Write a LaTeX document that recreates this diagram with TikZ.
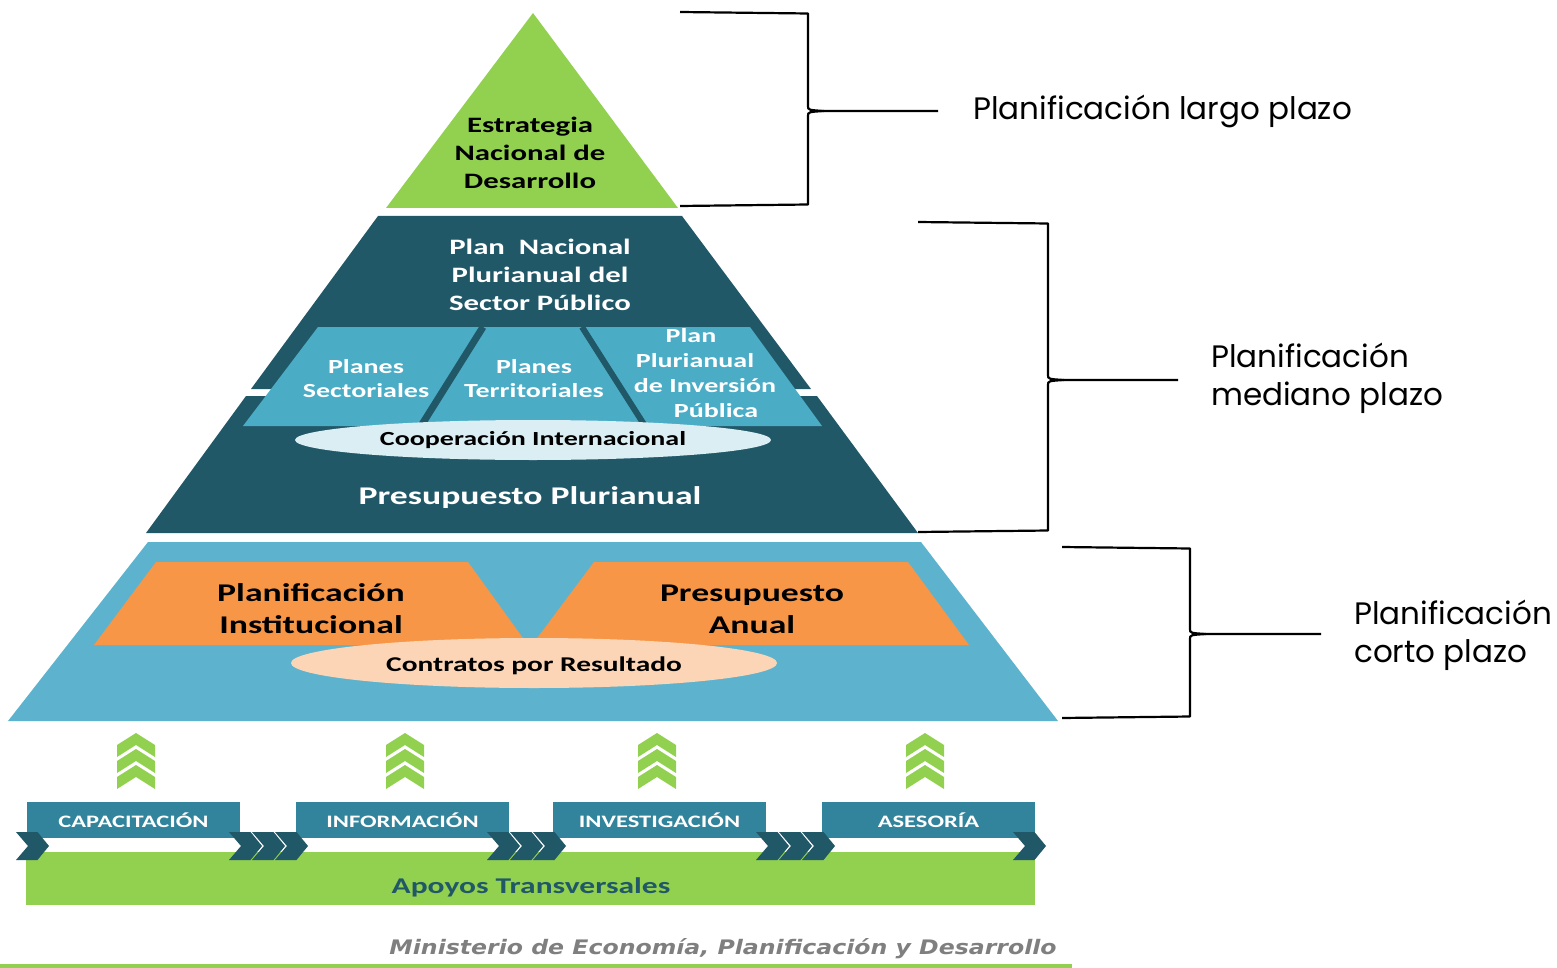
\documentclass[tikz,border=0pt]{standalone}
\usepackage{fontspec}
\usetikzlibrary{shapes.geometric}
\newfontfamily\calib[FakeStretch=1.4]{Carlito}
\newfontfamily\gothic{Poppins}
\newfontfamily\verdw[FakeStretch=1.18]{DejaVu Sans}
\definecolor{lgreen}{HTML}{92D050}
\definecolor{dteal}{HTML}{215868}
\definecolor{mblue}{HTML}{4BACC6}
\definecolor{bblue}{HTML}{5DB3CE}
\definecolor{orng}{HTML}{F79646}
\definecolor{peach}{HTML}{FBD5B5}
\definecolor{ice}{HTML}{DAEEF3}
\definecolor{tbox}{HTML}{31849B}
\definecolor{fgrey}{HTML}{7F7F7F}
\newcommand\planbrace[6]{% xl, ytop, xv, ybot, ymid, xr
  \draw[brc] (#1,#2) -- (#3,#2+1.5) -- (#3,#5-5) .. controls (#3,#5-1) .. (#3+16,#5) -- (#6,#5);
  \draw[brc] (#1,#4) -- (#3,#4-1.5) -- (#3,#5+5) .. controls (#3,#5+1) .. (#3+16,#5);
}
\begin{document}
\begin{tikzpicture}[x=1pt,y=-1pt,
  txt/.style={inner sep=0pt, align=center},
  brc/.style={draw=black, line width=2.2pt, line join=round},
  side/.style={inner sep=0pt, anchor=west, align=left, font=\gothic\fontsize{31}{38}\selectfont},
  bbox/.style={fill=tbox, minimum width=213, minimum height=36, inner sep=0pt, text=white,
     font=\calib\bfseries\fontsize{17.5}{20}\selectfont},
  dchev/.style={fill=dteal},
  gchev/.style={fill=lgreen}]
\useasboundingbox (0,0) rectangle (1557,968);

% ---- top triangle
\fill[lgreen] (533,13) -- (678,208) -- (386,208) -- cycle;
\node[txt, font=\calib\bfseries\fontsize{22}{28}\selectfont] (ens) at (530,153)
  {Estrategia\\Nacional de\\Desarrollo};

% ---- middle level
\fill[dteal] (378,216) -- (682,216) -- (811,389) -- (251,389) -- cycle;
\fill[dteal] (246,396) -- (817,396) -- (918,533) -- (146,533) -- cycle;
\fill[mblue] (318,327) -- (750,327) -- (822,426) -- (243,426) -- cycle;
\draw[dteal, line width=7pt] (483,327) -- (421,426);
\draw[dteal, line width=6pt] (582,327) -- (645,426);
\node[txt, text=white, font=\calib\bfseries\fontsize{22}{28}\selectfont] (pnp) at (540,275)
  {Plan\ \ Nacional\\Plurianual del\\Sector Público};
\node[txt, text=white, font=\calib\bfseries\fontsize{20}{24}\selectfont] (pls) at (366,379)
  {Planes\\Sectoriales};
\node[txt, text=white, font=\calib\bfseries\fontsize{20}{24}\selectfont] (plt) at (534,379)
  {Planes\\Territoriales};
\node[txt, text=white, font=\calib\bfseries\fontsize{20}{25}\selectfont] (ppi) at (705,373)
  {\hspace*{-28pt}Plan\\\hspace*{-20pt}Plurianual\\de Inversión\\\hspace*{22pt}Pública};
\node[ellipse, fill=ice, inner sep=0pt, minimum width=476, minimum height=40,
  font=\calib\bfseries\fontsize{20}{24}\selectfont] (coop) at (533,440) {Cooperación Internacional};
\node[txt, text=white, font=\calib\bfseries\fontsize{25.5}{30}\selectfont] (prp) at (530,498)
  {Presupuesto Plurianual};

% ---- bottom level
\fill[bblue] (148,542) -- (921,542) -- (1058,721) -- (8,721) -- cycle;
\fill[orng] (156,562) -- (468,562) -- (528,645) -- (94,645) -- cycle;
\fill[orng] (594,562) -- (908,562) -- (969,645) -- (532,645) -- cycle;
\node[ellipse, fill=peach, inner sep=0pt, minimum width=486, minimum height=50,
  font=\calib\bfseries\fontsize{21}{24}\selectfont] (cpr) at (534,663) {};
\node[txt, font=\calib\bfseries\fontsize{21}{24}\selectfont] (cprt) at (534,666) {Contratos por Resultado};
\node[txt, font=\calib\bfseries\fontsize{25.5}{32}\selectfont] (pin) at (311,609)
  {Planificación\\Institucional};
\node[txt, font=\calib\bfseries\fontsize{25.5}{32}\selectfont] (pan) at (752,609)
  {Presupuesto\\Anual};

% ---- up chevrons
\foreach \cx in {136,405,657,925}
  \foreach \a in {733,749,765}
    \fill[gchev] (\cx,\a) -- (\cx+19,\a+12) -- (\cx+19,\a+24) -- (\cx,\a+12)
      -- (\cx-19,\a+24) -- (\cx-19,\a+12) -- cycle;

% ---- support bar
\node[fill=lgreen, minimum width=1009, minimum height=53, inner sep=0pt] (bar) at (530.5,878.5) {};
\node[txt, text=dteal, font=\calib\bfseries\fontsize{22.5}{26}\selectfont] (apo) at (531,887)
  {Apoyos Transversales};
\node[bbox] (cap) at (133.5,820) {CAPACITACIÓN};
\node[bbox] (inf) at (402.5,820) {INFORMACIÓN};
\node[bbox] (inv) at (659.5,820) {INVESTIGACIÓN};
\node[bbox] (ase) at (928.5,820) {ASESORÍA};
\foreach \x in {16,229,252,275,487,510,533,756,779,802,1013}
  \fill[dchev] (\x,832) -- (\x+21.5,832) -- (\x+33,846) -- (\x+21.5,860) -- (\x,860) -- (\x+12,846) -- cycle;

% ---- footer
\node[txt, text=fgrey, font=\verdw\bfseries\itshape\fontsize{20}{24}\selectfont] (mep) at (723,949)
  {Ministerio de Economía, Planificación y Desarrollo};
\fill[lgreen] (0,964) rectangle (1072,968);

% ---- braces and side labels
\planbrace{680}{12}{808}{206}{111}{938}
\planbrace{918}{222}{1048}{532}{380}{1178}
\planbrace{1062}{547}{1190}{718}{634}{1321}
\node[side] (lpz) at (973,111) {Planificación largo plazo};
\node[side] (mpz) at (1211,378) {Planificación\\mediano plazo};
\node[side] (cpz) at (1354,635) {Planificación\\corto plazo};
\end{tikzpicture}
\end{document}
